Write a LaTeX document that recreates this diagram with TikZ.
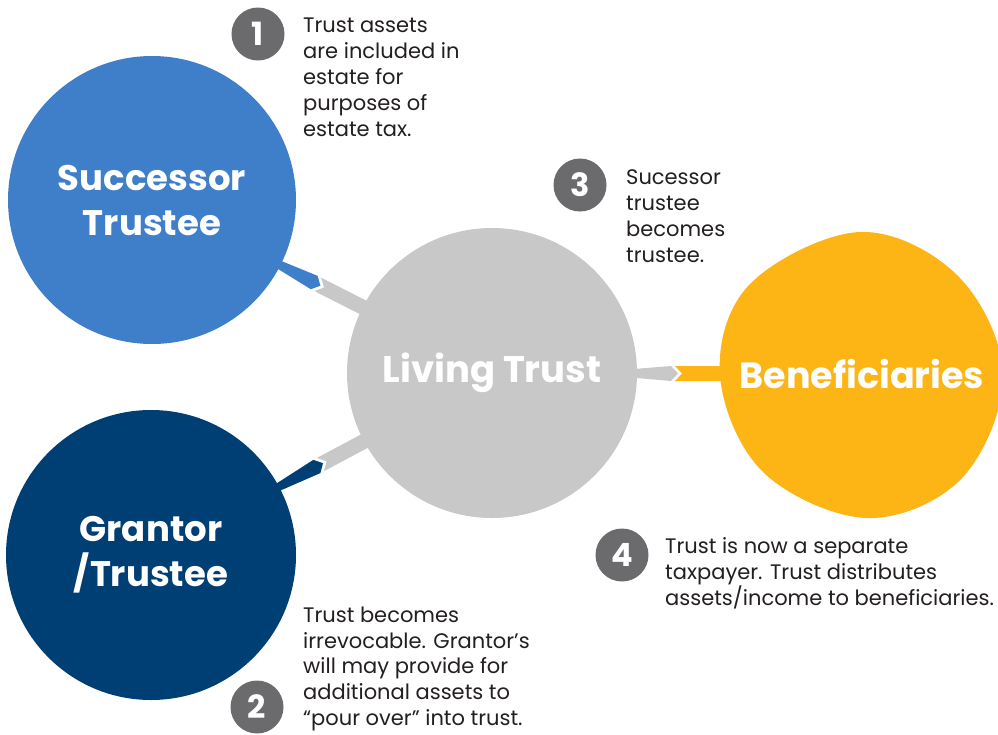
\documentclass[tikz,border=0pt]{standalone}
\usepackage{fontspec}
\setmainfont{Poppins}
\usetikzlibrary{calc,backgrounds}

\definecolor{succblue}{HTML}{3F7FC9}
\definecolor{grantnavy}{HTML}{003F74}
\definecolor{trustgray}{HTML}{C8C8C8}
\definecolor{benefgold}{HTML}{FDB515}
\definecolor{badgegray}{HTML}{6B6B6D}
\definecolor{inkdark}{HTML}{231F20}

\tikzset{
  party/.style={circle, minimum size=288pt, inner sep=0pt, text=white, align=center,
    font=\fontsize{35.5}{45}\selectfont\bfseries},
  badge/.style={circle, fill=badgegray, minimum size=53pt, inner sep=0pt, text=white,
    font=\fontsize{32}{32}\selectfont\bfseries},
  note/.style={anchor=north west, inner sep=0pt, align=left, text=inkdark,
    font=\fontsize{21}{26}\selectfont},
}

% bar from #1 to #2: part in #3 ends in a point at distance #5, part in #4 takes it in a notch
\newcommand{\linkbar}[5]{%
  \pgfmathsetmacro\tipd{#5}
  \pgfmathsetmacro\based{#5-7}
  \pgfmathsetmacro\notchv{#5+4}
  \pgfmathsetmacro\notchs{#5-3}
  \coordinate (lt) at ($(#1.center)!\tipd pt!(#2.center)$);
  \coordinate (lb) at ($(#1.center)!\based pt!(#2.center)$);
  \coordinate (nv) at ($(#1.center)!\notchv pt!(#2.center)$);
  \coordinate (ns) at ($(#1.center)!\notchs pt!(#2.center)$);
  \fill[#3] ($(#1.center)!7.5pt!-90:(#2.center)$) -- ($(lb)!7.5pt!90:(#2.center)$)
    -- (lt) -- ($(lb)!7.5pt!-90:(#2.center)$) -- ($(#1.center)!7.5pt!90:(#2.center)$) -- cycle;
  \fill[#4] ($(ns)!7.5pt!90:(#2.center)$) -- (nv) -- ($(ns)!7.5pt!-90:(#2.center)$)
    -- ($(#2.center)!7.5pt!90:(#1.center)$) -- ($(#2.center)!7.5pt!-90:(#1.center)$) -- cycle;
}

\begin{document}
\begin{tikzpicture}[x=1pt,y=-1pt]
\useasboundingbox (0,0) rectangle (998,734);

% the four parties
\node[party, fill=succblue] (succ) at (152,200) {Successor\\Trustee};
\node[party, fill=grantnavy, minimum size=290pt] (grant) at (151,555) {Grantor\\/Trustee};
\node[party, fill=trustgray, minimum size=290pt, font=\fontsize{37}{45}\selectfont\bfseries] (trust) at (492,373) {Living Trust};

\begin{scope}
  \clip (0,0) rectangle (998,734);
  \fill[benefgold] plot[smooth cycle, tension=0.6] coordinates {(720,375) (750,284) (860,232)
    (958,276) (1003,375) (962,478) (867,518) (763,472)};
\end{scope}
\node[party, minimum size=284pt, font=\fontsize{36.5}{45}\selectfont\bfseries] (benef) at (862,374) {Beneficiaries};

% connectors
\begin{scope}[on background layer]
  \linkbar{succ}{trust}{succblue}{trustgray}{189}
  \linkbar{grant}{trust}{grantnavy}{trustgray}{195}
  \linkbar{trust}{benef}{trustgray}{benefgold}{186}
\end{scope}

% numbered notes
\node[badge] (n1) at (258,34) {1};
\node[note] (t1) at (303,18) {Trust assets\\are included in\\estate for\\purposes of\\estate tax.};

\node[badge] (n3) at (580,185) {3};
\node[note] (t3) at (626,169) {Sucessor\\trustee\\becomes\\trustee.};

\node[badge] (n4) at (622,555) {4};
\node[note] (t4) at (665,537) {Trust is now a separate\\taxpayer. Trust distributes\\assets/income to beneficiaries.};

\node[badge] (n2) at (257,707) {2};
\node[note, font=\fontsize{21}{25.6}\selectfont] (t2) at (303,607) {Trust becomes\\irrevocable. Grantor’s\\will may provide for\\additional assets to\\“pour over” into trust.};
\end{tikzpicture}
\end{document}
